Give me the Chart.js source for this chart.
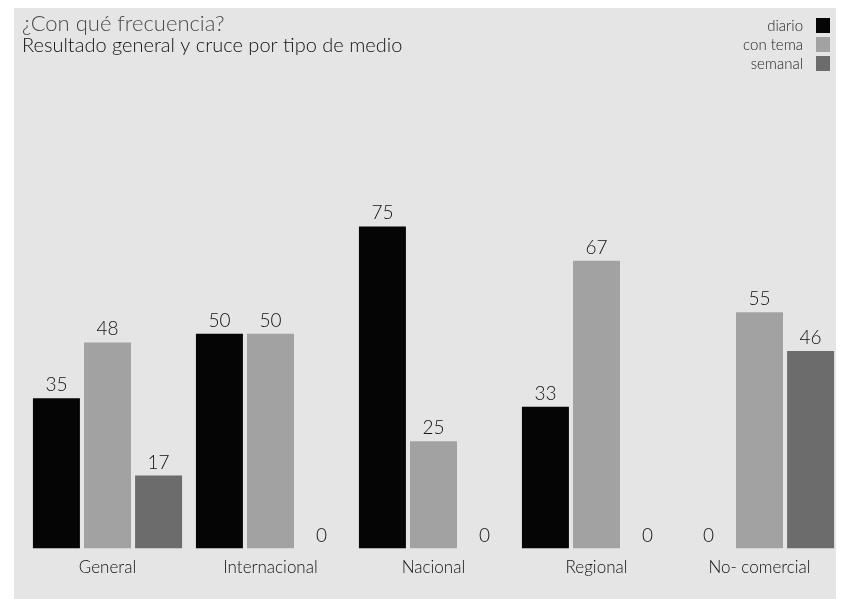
<!DOCTYPE html>
<html>
<head>
<meta charset="utf-8">
<script src="https://cdn.jsdelivr.net/npm/chart.js@4/dist/chart.umd.min.js"></script>
<style>
html,body{margin:0;padding:0;background:#ffffff;}
#wrap{width:845px;height:599px;position:relative;}
</style>
</head>
<body>
<div id="wrap"><canvas id="c" width="845" height="599"></canvas></div>
<script>
const categories = ["General", "Internacional", "Nacional", "Regional", "No- comercial"];
const diario   = [35, 50, 75, 33, 0];
const conTema  = [48, 50, 25, 67, 55];
const semanal  = [17, 0, 0, 0, 46];
const seriesNames = ["diario", "con tema", "semanal"];
const titleLine1 = "¿Con qué frecuencia?";
const titleLine2 = "Resultado general y cruce por tipo de medio";

const FONT = "Lato, 'Open Sans', sans-serif";

const bgPlugin = {
  id: 'bg',
  beforeDraw(chart) {
    const ctx = chart.ctx;
    ctx.save();
    ctx.fillStyle = '#ffffff';
    ctx.fillRect(0, 0, chart.width, chart.height);
    ctx.fillStyle = '#e5e5e5';
    ctx.fillRect(14, 8, 822, 591);
    ctx.restore();
  }
};

const textPlugin = {
  id: 'texts',
  afterDatasetsDraw(chart) {
    const ctx = chart.ctx;
    ctx.save();
    // value labels
    ctx.font = "300 19px " + FONT;
    ctx.fillStyle = '#111111';
    ctx.textAlign = 'center';
    ctx.textBaseline = 'alphabetic';
    chart.data.datasets.forEach((ds, di) => {
      const meta = chart.getDatasetMeta(di);
      meta.data.forEach((bar, i) => {
        ctx.fillText(String(ds.data[i]), bar.x, bar.y - 7);
      });
    });
    // titles
    ctx.textAlign = 'left';
    ctx.font = "300 22px " + FONT;
    ctx.fillStyle = '#4a4a4a';
    ctx.fillText(titleLine1, 22, 31);
    ctx.font = "300 20px " + FONT;
    ctx.fillStyle = '#111111';
    ctx.fillText(titleLine2, 22, 52);
    // legend
    ctx.font = "300 15px " + FONT;
    ctx.textAlign = 'right';
    chart.data.datasets.forEach((ds, di) => {
      const y = 31 + di * 19;
      ctx.fillStyle = '#1e1e1e';
      ctx.fillText(ds.label, 803, y);
      ctx.fillStyle = ds.backgroundColor;
      ctx.fillRect(816, y - 13, 14, 15);
    });
    ctx.restore();
  }
};

new Chart(document.getElementById('c'), {
  type: 'bar',
  data: {
    labels: categories,
    datasets: [
      { label: seriesNames[0], data: diario,  backgroundColor: '#050505' },
      { label: seriesNames[1], data: conTema, backgroundColor: '#a2a2a2' },
      { label: seriesNames[2], data: semanal, backgroundColor: '#6c6c6c' }
    ]
  },
  options: {
    responsive: false,
    animation: false,
    devicePixelRatio: 1,
    layout: { padding: { top: 119, left: 26, right: 4, bottom: 12 } },
    datasets: { bar: { categoryPercentage: 0.94, barPercentage: 0.92 } },
    plugins: {
      legend: { display: false },
      tooltip: { enabled: false },
      title: { display: false }
    },
    scales: {
      x: {
        grid: { display: false, drawTicks: false },
        border: { display: false },
        ticks: { color: '#111111', font: { family: FONT, size: 17, weight: '300' }, padding: 9, maxRotation: 0 }
      },
      y: {
        display: false,
        min: 0,
        max: 100
      }
    }
  },
  plugins: [bgPlugin, textPlugin]
});
</script>
</body>
</html>
